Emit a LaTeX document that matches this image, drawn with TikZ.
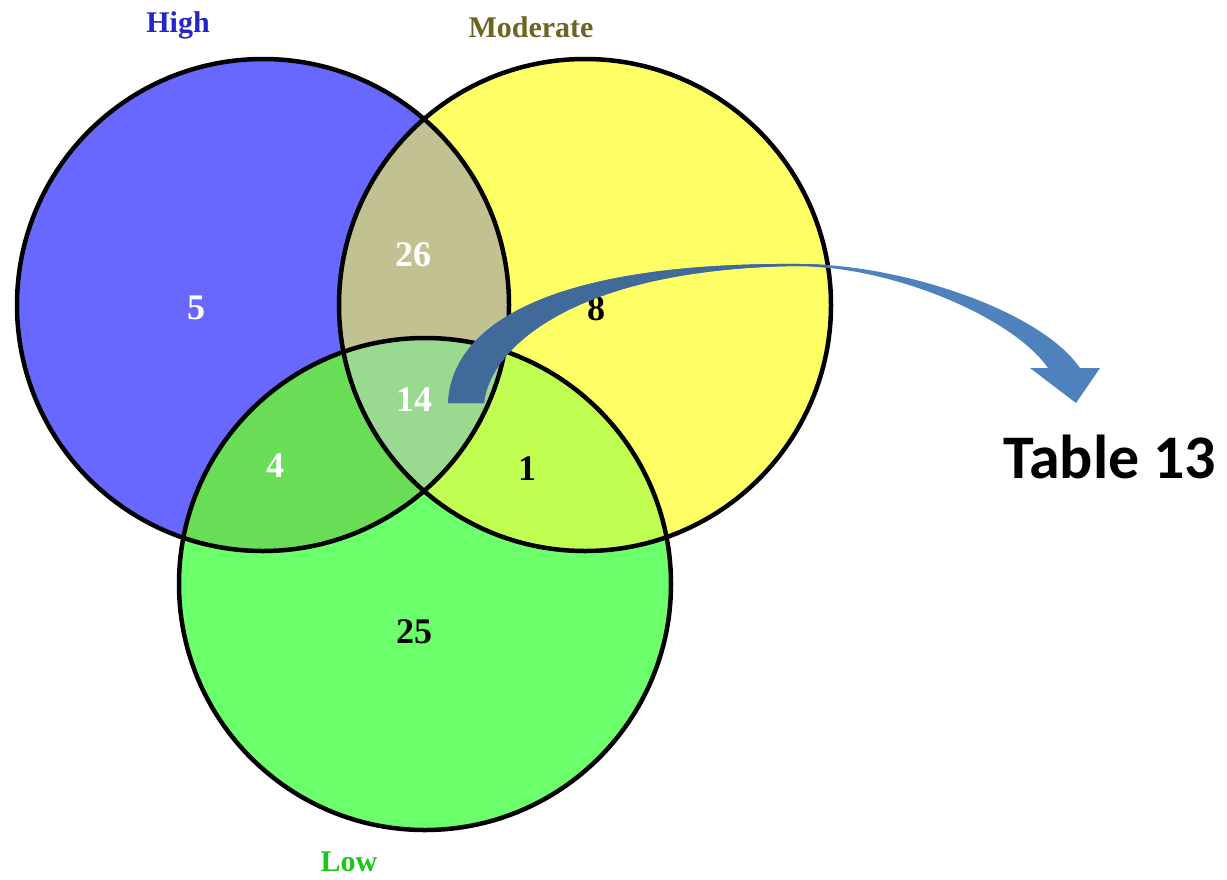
\documentclass[tikz,border=0pt]{standalone}
\usepackage{fontspec}
\setmainfont{Liberation Serif}
\newfontfamily\tablefont{Carlito}
\definecolor{cblue}{HTML}{6868FF}
\definecolor{cyellow}{HTML}{FFFF66}
\definecolor{cgreen}{HTML}{6BFF6B}
\definecolor{cby}{HTML}{C2C192}
\definecolor{cbg}{HTML}{68DD55}
\definecolor{cyg}{HTML}{C0FF52}
\definecolor{call}{HTML}{99D990}
\definecolor{thigh}{HTML}{2424C8}
\definecolor{tmod}{HTML}{6E6422}
\definecolor{tlow}{HTML}{18C818}
\definecolor{arrlight}{HTML}{4F81BD}
\definecolor{arrdark}{HTML}{41699A}
\tikzset{
  outline/.style={draw=black, line width=4.5pt},
  numw/.style={text=white, font=\bfseries\fontsize{36}{40}\selectfont, inner sep=0pt},
  numb/.style={text=black, font=\bfseries\fontsize{36}{40}\selectfont, inner sep=0pt},
  setlabel/.style={font=\bfseries\fontsize{30}{34}\selectfont, inner sep=0pt},
}
\begin{document}
\begin{tikzpicture}[x=1pt, y=-1pt]
\useasboundingbox (0,0) rectangle (1227,879);
\coordinate (H) at (263,305);
\coordinate (M) at (585,305);
\coordinate (L) at (425,584);
\def\R{246}
% base fills
\fill[cblue] (H) circle (\R);
\fill[cyellow] (M) circle (\R);
\fill[cgreen] (L) circle (\R);
% overlaps
\begin{scope}
  \clip (H) circle (\R);
  \fill[cby] (M) circle (\R);
  \fill[cbg] (L) circle (\R);
\end{scope}
\begin{scope}
  \clip (M) circle (\R);
  \fill[cyg] (L) circle (\R);
\end{scope}
\begin{scope}
  \clip (H) circle (\R);
  \clip (M) circle (\R);
  \fill[call] (L) circle (\R);
\end{scope}
% outlines
\draw[outline] (H) circle (\R);
\draw[outline] (M) circle (\R);
\draw[outline] (L) circle (\R);
% set labels
\node[setlabel, text=thigh] (lh) at (178,25) {High};
\node[setlabel, text=tmod] (lm) at (531,27) {Moderate};
\node[setlabel, text=tlow] (ll) at (349,862) {Low};
% counts
\node[numw] (n5) at (196,308) {5};
\node[numw] (n26) at (413,255) {26};
\node[numb] (n8) at (596,309) {8};
\node[numw] (n14) at (414,400) {14};
\node[numw] (n4) at (275,466) {4};
\node[numb] (n1) at (527,469) {1};
\node[numb] (n25) at (414,632) {25};
% table label
\node[font=\tablefont\bfseries\fontsize{62}{68}\selectfont, inner sep=0pt, anchor=base west] (tab) at (1003,478) {Table 13};
% arrow
\def\arrowpath{(448,403) .. controls (452,320) and (560,262) .. (800,264)
  .. controls (900,264) and (1040,310) .. (1080,368)
  -- (1100,368) -- (1076,403) -- (1030,368) -- (1048,368)
  .. controls (1015,320) and (900,268) .. (800,266)
  .. controls (580,268) and (490,345) .. (484,403) -- cycle}
\fill[arrlight] \arrowpath;
\begin{scope}
  \clip (H) circle (\R) (M) circle (\R) (L) circle (\R);
  \fill[arrdark] \arrowpath;
\end{scope}
\end{tikzpicture}
\end{document}
